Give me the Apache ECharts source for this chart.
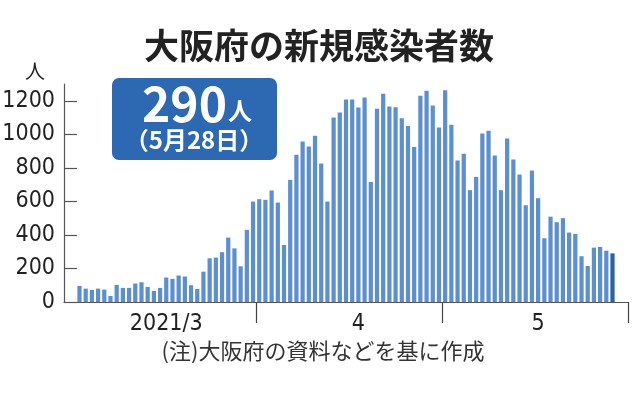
<!DOCTYPE html>
<html>
<head>
<meta charset="utf-8">
<script src="https://cdn.jsdelivr.net/npm/echarts@6/dist/echarts.min.js"></script>
<style>html,body{margin:0;padding:0;background:#fff;}#c{width:638px;height:396px;}</style>
</head>
<body>
<div id="c"></div>
<script>
// Daily new cases in Osaka, 2021-03-03 .. 2021-05-28 (axis spans 3/1 .. 5/30)
const startDate = '2021-03-01';
const dayCount = 91;
const cases = [null, null,
  96, 80, 72, 80, 74, 36, 102, 84, 84, 110, 118, 90, 66, 84, 146, 138, 158, 152, 100, 78,
  181, 261, 265, 297, 384, 320, 213, 430, 599,
  613, 609, 665, 593, 340, 728, 878, 957, 927, 991, 826, 599, 1100, 1130, 1208, 1208,
  1160, 1220, 716, 1152, 1242, 1166, 1162, 1096, 1049, 925, 1230, 1260, 1172, 1041,
  1262, 1057, 844, 884, 667, 746, 1005, 1021, 874, 667, 975, 850, 760, 577, 784, 619,
  380, 509, 476, 500, 414, 406, 273, 215, 324, 328, 306, 290,
  null, null];
const yTicks = [0, 200, 400, 600, 800, 1000, 1200];
const monthLabels = {16: '2021/3', 47: '4', 76: '5'};
const monthStarts = [31, 61];
const titleText = '大阪府の新規感染者数';
const noteText = '(注)大阪府の資料などを基に作成';
const unitText = '人';
const highlightValue = '290';
const highlightDate = '（5月28日）';

const days = [];
{
  const d0 = new Date(startDate + 'T00:00:00Z');
  for (let i = 0; i < dayCount; i++) {
    const d = new Date(d0.getTime() + i * 86400000);
    days.push((d.getUTCMonth() + 1) + '/' + d.getUTCDate());
  }
}
const lastIdx = cases.reduce((a, v, i) => (v != null ? i : a), 0);
const barData = cases.map((v, i) => i === lastIdx ? {value: v, itemStyle: {color: '#2b61a9'}} : v);

const numFont = "'Liberation Sans Narrow', 'DejaVu Sans Condensed', 'Liberation Sans', sans-serif";
const cjkFont = "'Noto Sans CJK JP', 'Noto Sans', sans-serif";

const chart = echarts.init(document.getElementById('c'), null, {renderer: 'canvas'});
chart.setOption({
  animation: false,
  backgroundColor: '#fff',
  grid: {left: 64, right: 10, top: 84, bottom: 94, containLabel: false, outerBoundsMode: 'none'},
  xAxis: {
    type: 'category',
    data: days,
    boundaryGap: true,
    axisLine: {lineStyle: {color: '#555', width: 1.2}},
    axisTick: {
      show: true,
      length: 21,
      interval: (i) => monthStarts.indexOf(i) >= 0,
      lineStyle: {color: '#444', width: 1.2}
    },
    axisLabel: {
      interval: (i) => monthLabels[i] !== undefined,
      formatter: (v, i) => monthLabels[i] || '',
      fontFamily: numFont,
      fontSize: 23,
      color: '#222',
      margin: 11
    },
    splitLine: {show: false}
  },
  yAxis: {
    type: 'value',
    min: 0,
    max: 1300,
    interval: 100,
    axisLine: {show: true, lineStyle: {color: '#555', width: 1.2}},
    axisTick: {show: true, inside: true, length: 13, customValues: yTicks, lineStyle: {color: '#555', width: 1.2}},
    axisLabel: {customValues: yTicks, formatter: (v) => String(v), fontFamily: numFont, fontSize: 23, color: '#222', margin: 9},
    splitLine: {show: false}
  },
  series: [{
    type: 'bar',
    data: barData,
    barCategoryGap: '32%',
    itemStyle: {color: '#5b8fd1'}
  }],
  graphic: [
    {type: 'text', left: 'center', top: 28, style: {text: titleText, font: "bold 35px " + cjkFont, fill: '#222'}},
    {type: 'text', x: 35, y: 71, style: {text: unitText, font: "20px " + cjkFont, fill: '#222', align: 'center', verticalAlign: 'middle'}},
    {type: 'rect', shape: {x: 112, y: 78, width: 165, height: 82, r: 7}, style: {fill: '#2d68b2'}},
    {type: 'text', x: 227, y: 104, style: {text: highlightValue, font: "bold 48px " + cjkFont, fill: '#fff', align: 'right', verticalAlign: 'middle'}},
    {type: 'text', x: 228, y: 111, style: {text: unitText, font: "bold 24px " + cjkFont, fill: '#fff', align: 'left', verticalAlign: 'middle'}},
    {type: 'text', x: 194, y: 140, style: {text: highlightDate, font: "bold 24px " + cjkFont, fill: '#fff', align: 'center', verticalAlign: 'middle'}},
    {type: 'text', x: 323, y: 351, style: {text: noteText, font: "22px " + cjkFont, fill: '#333', align: 'center', verticalAlign: 'middle'}}
  ]
});
</script>
</body>
</html>
